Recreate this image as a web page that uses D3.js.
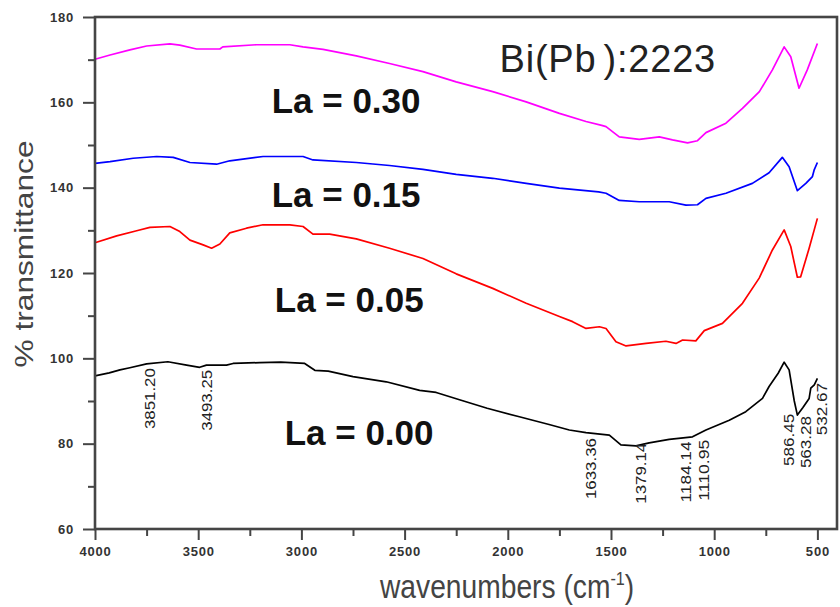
<!DOCTYPE html>
<html>
<head>
<meta charset="utf-8">
<script src="https://cdn.jsdelivr.net/npm/d3@7"></script>
<style>
  html, body { margin: 0; padding: 0; background: #fff; }
  svg { display: block; }
</style>
</head>
<body>
<svg id="chart" width="840" height="607"></svg>
<script>
// FTIR spectra of Bi(Pb):2223 with La substitution: [wavenumber cm^-1, % transmittance]
const spectrumLa030 = [
  [4000,170.1],[3927,171.1],[3831,172.3],[3750,173.2],[3637,173.7],[3589,173.4],
  [3508,172.5],[3395,172.5],[3381,173.0],[3218,173.5],[3056,173.5],[2992,173.0],
  [2895,172.4],[2734,170.9],[2573,169.1],[2411,167.2],[2250,164.8],[2073,162.5],
  [1911,160.1],[1750,157.4],[1621,155.5],[1545,154.6],[1524,154.3],[1460,151.9],
  [1363,151.3],[1266,151.9],[1202,151.2],[1129,150.5],[1081,151.0],[1040,152.9],
  [943,155.1],[863,158.6],[781,162.5],[718,167.6],[661,173.0],[629,170.7],
  [589,163.3],[549,167.6],[500,173.8]
];
const spectrumLa015 = [
  [4000,145.7],[3927,146.1],[3815,146.9],[3701,147.3],[3621,147.1],[3540,145.9],
  [3411,145.5],[3347,146.3],[3186,147.3],[2992,147.3],[2944,146.5],[2734,145.9],
  [2573,145.2],[2411,144.3],[2250,143.1],[2073,142.2],[1911,141.0],[1750,139.9],
  [1560,139.0],[1524,138.7],[1460,137.0],[1363,136.7],[1218,136.7],[1137,135.9],
  [1081,136.0],[1040,137.5],[943,138.7],[815,141.0],[734,143.5],[670,147.1],
  [637,144.9],[597,139.3],[556,141.0],[524,142.6],[516,144.1],[500,145.9]
];
const spectrumLa005 = [
  [4000,127.1],[3895,128.7],[3798,129.9],[3734,130.7],[3637,130.9],[3589,129.7],
  [3540,127.7],[3476,126.6],[3435,125.8],[3395,126.8],[3347,129.4],[3266,130.5],
  [3186,131.3],[3056,131.3],[2992,130.9],[2944,129.1],[2863,129.1],[2734,128.0],
  [2573,125.8],[2411,123.4],[2250,119.8],[2073,116.4],[1911,112.9],[1750,109.8],
  [1686,108.6],[1621,107.0],[1556,107.4],[1524,107.0],[1476,103.9],[1427,102.9],
  [1330,103.5],[1234,104.0],[1185,103.5],[1153,104.3],[1089,104.1],[1048,106.5],
  [960,108.2],[863,112.9],[782,118.8],[718,125.4],[661,130.1],[629,126.2],
  [597,119.0],[581,119.1],[540,125.8],[500,132.8]
];
const spectrumLa000 = [
  [4000,95.9],[3931,96.6],[3879,97.3],[3831,97.8],[3750,98.7],[3647,99.2],
  [3556,98.4],[3493,97.9],[3460,98.4],[3363,98.4],[3331,98.8],[3202,99.0],
  [3100,99.1],[2984,98.8],[2935,97.2],[2870,97.0],[2750,95.7],[2589,94.5],
  [2427,92.5],[2347,92.0],[2234,90.3],[2100,88.3],[1944,86.3],[1800,84.5],
  [1702,83.2],[1621,82.6],[1508,82.0],[1452,79.7],[1379,79.5],[1315,80.2],
  [1218,81.0],[1105,81.6],[1040,83.2],[927,85.5],[847,87.5],[766,90.6],
  [734,93.4],[690,96.5],[661,99.1],[637,97.3],[612,90.0],[597,86.7],
  [570,88.5],[540,90.6],[532,93.0],[515,93.8],[500,95.3]
];

const seriesNames  = ["La = 0.30", "La = 0.15", "La = 0.05", "La = 0.00"];
const seriesColors = ["#ff00ff", "#0000ff", "#ff0000", "#000000"];
// where each series name sits: [wavenumber of text start, transmittance at baseline]
const seriesLabelAt = [[3144,157.4],[3144,135.5],[3129,110.9],[3081,79.7]];

const sampleTitle   = "Bi(Pb):2223";
const sampleTitleAt = [2040, 167.2];

// band assignments marked on the La = 0.00 spectrum
const peakLabels  = ["3851.20","3493.25","1633.36","1379.14","1184.14","1110.95","586.45","563.28","532.67"];
// [wavenumber of text baseline, transmittance at the upper end of the text]
const peakLabelAt = [[3710,97.7],[3435,97.3],[1571,81.3],[1330,80.2],[1113,80.5],[1024,80.9],[613,87.0],[532,86.5],[452,94.2]];

const xTicks      = [4000,3500,3000,2500,2000,1500,1000,500];
const xMinorTicks = [3750,3250,2750,2250,1750,1250,750];
const yTicks      = [60,80,100,120,140,160,180];
const yMinorTicks = [70,90,110,130,150,170];

const xTitle = "wavenumbers (cm";
const xTitleSup = "-1";
const yTitle = "% transmittance";

// ---- layout ----
const svg = d3.select("#chart");
const plotLeft = 95, plotRight = 837, plotTop = 17, plotBottom = 529;

const x = d3.scaleLinear().domain([4000, 405]).range([plotLeft, plotRight]);
const y = d3.scaleLinear().domain([60, 180]).range([plotBottom, plotTop]);

const FONT = "'Liberation Sans', Arial, Helvetica, sans-serif";
const axisColor = "#454545";

// spectra
const line = d3.line().x(d => x(d[0])).y(d => y(d[1]));
const spectra = [spectrumLa030, spectrumLa015, spectrumLa005, spectrumLa000];
svg.append("g").selectAll("path")
  .data(spectra)
  .join("path")
  .attr("d", line)
  .attr("fill", "none")
  .attr("stroke", (d, i) => seriesColors[i])
  .attr("stroke-width", 1.7)
  .attr("stroke-linejoin", "round");

// axes: major ticks with labels, minor ticks without
function styleAxis(g) {
  g.select(".domain").remove();
  g.selectAll(".tick line").attr("stroke", axisColor).attr("stroke-width", 2);
  g.selectAll(".tick text")
    .attr("fill", "#333")
    .style("font-family", FONT)
    .style("font-size", "13px")
    .style("font-weight", "bold")
    .style("letter-spacing", "0.8px");
}

svg.append("g")
  .attr("transform", `translate(0,${plotBottom})`)
  .call(d3.axisBottom(x).tickValues(xTicks).tickSize(11).tickPadding(7).tickFormat(d3.format("d")))
  .call(styleAxis);
svg.append("g")
  .attr("transform", `translate(0,${plotBottom})`)
  .call(d3.axisBottom(x).tickValues(xMinorTicks).tickSize(7).tickFormat(""))
  .call(styleAxis);

svg.append("g")
  .attr("transform", `translate(${plotLeft},0)`)
  .call(d3.axisLeft(y).tickValues(yTicks).tickSize(12).tickPadding(9).tickFormat(d3.format("d")))
  .call(styleAxis);
svg.append("g")
  .attr("transform", `translate(${plotLeft},0)`)
  .call(d3.axisLeft(y).tickValues(yMinorTicks).tickSize(7).tickFormat(""))
  .call(styleAxis);

// plot frame
svg.append("rect")
  .attr("x", plotLeft).attr("y", plotTop)
  .attr("width", plotRight - plotLeft).attr("height", plotBottom - plotTop)
  .attr("fill", "none")
  .attr("stroke", axisColor)
  .attr("stroke-width", 2.6);

// series names
svg.append("g").selectAll("text")
  .data(seriesNames)
  .join("text")
  .attr("x", (d, i) => x(seriesLabelAt[i][0]))
  .attr("y", (d, i) => y(seriesLabelAt[i][1]))
  .attr("fill", "#111")
  .style("font-family", FONT)
  .style("font-size", "35px")
  .style("font-weight", "bold")
  .text(d => d);

// sample title
const st = svg.append("text")
  .attr("x", x(sampleTitleAt[0]))
  .attr("y", y(sampleTitleAt[1]))
  .attr("fill", "#222")
  .style("font-family", FONT)
  .style("font-size", "38px")
  .style("letter-spacing", "0.8px");
st.append("tspan").text(sampleTitle.slice(0, 5));
st.append("tspan").attr("dx", 7).text(sampleTitle.slice(5));

// peak positions, written upward
svg.append("g").selectAll("text")
  .data(peakLabels)
  .join("text")
  .attr("transform", (d, i) => `translate(${x(peakLabelAt[i][0])},${y(peakLabelAt[i][1])}) rotate(-90)`)
  .attr("text-anchor", "end")
  .attr("textLength", d => d.length * 8.7)
  .attr("lengthAdjust", "spacingAndGlyphs")
  .attr("fill", "#222")
  .style("font-family", FONT)
  .style("font-size", "14px")
  .text(d => d);

// axis titles
svg.append("text")
  .attr("transform", `translate(33,${(plotTop + plotBottom) / 2 - 19}) rotate(-90)`)
  .attr("text-anchor", "middle")
  .attr("textLength", 227)
  .attr("lengthAdjust", "spacingAndGlyphs")
  .attr("fill", "#444")
  .style("font-family", FONT)
  .style("font-size", "26px")
  .text(yTitle);

const xt = svg.append("text")
  .attr("transform", `translate(380,598) scale(0.855,1)`)
  .attr("fill", "#444")
  .style("font-family", FONT)
  .style("font-size", "33px");
xt.append("tspan").text(xTitle);
xt.append("tspan").attr("dy", -13).style("font-size", "19px").text(xTitleSup);
xt.append("tspan").attr("dy", 13).text(")");
</script>
</body>
</html>
